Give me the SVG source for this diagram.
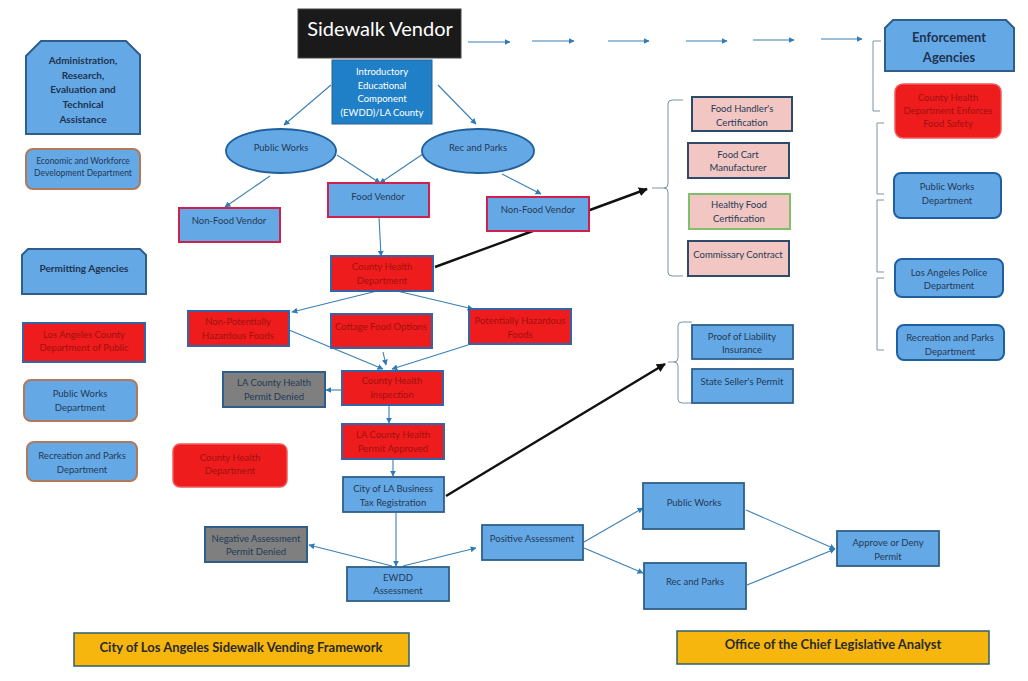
<svg xmlns="http://www.w3.org/2000/svg" width="1028" height="681" viewBox="0 0 1028 681">
<defs>
<style>
.t{font-family:Lato,"Liberation Sans",sans-serif;font-size:9.5px;fill:#243a55;text-anchor:middle}
.tr{font-family:Lato,"Liberation Sans",sans-serif;font-size:9.5px;fill:#a31010;text-anchor:middle}
.tw{font-family:Lato,"Liberation Sans",sans-serif;font-size:9.5px;fill:#ffffff;text-anchor:middle}
.tb{font-family:Lato,"Liberation Sans",sans-serif;font-size:10px;font-weight:bold;fill:#1f3350;text-anchor:middle}
.ty{font-family:Lato,"Liberation Sans",sans-serif;font-size:13px;font-weight:bold;fill:#2a2a2a;text-anchor:middle}
.blue{fill:#64a8e6;stroke:#2e5f8a;stroke-width:1.8}
.bluev{fill:#64a8e6;stroke:#d2204c;stroke-width:2}
.red{fill:#ee1c1c;stroke:#3565a8;stroke-width:2}
.redr{fill:#ee1c1c;stroke:#f25a5a;stroke-width:1.5}
.gray{fill:#7f7f7f;stroke:#2e5f8a;stroke-width:2}
.pink{fill:#f2c6c2;stroke:#2e4a6a;stroke-width:2}
.brown{fill:#64a8e6;stroke:#b07a5a;stroke-width:2}
.rblue{fill:#64a8e6;stroke:#1f5fa0;stroke-width:2}
.yel{fill:#f6b60e;stroke:#2d6070;stroke-width:1.5}
.c{fill:none;stroke:#3a7fb5;stroke-width:1.1}
.k{fill:none;stroke:#111111;stroke-width:2.4}
.br{fill:none;stroke:#7a93a8;stroke-width:1}
</style>
<marker id="a" viewBox="0 0 10 10" refX="9" refY="5" markerWidth="6" markerHeight="6" orient="auto-start-reverse" markerUnits="userSpaceOnUse"><path d="M0,0 L10,5 L0,10 z" fill="#2e7bb5"/></marker>
<marker id="ak" viewBox="0 0 10 10" refX="9" refY="5" markerWidth="9" markerHeight="9" orient="auto" markerUnits="userSpaceOnUse"><path d="M0,0 L10,5 L0,10 z" fill="#111111"/></marker>
</defs>
<rect width="1028" height="681" fill="#ffffff"/>

<g id="connectors">
<line class="c" x1="468" y1="42" x2="510" y2="42" marker-end="url(#a)"/>
<line class="c" x1="532" y1="41" x2="574" y2="41" marker-end="url(#a)"/>
<line class="c" x1="608" y1="41" x2="649" y2="41" marker-end="url(#a)"/>
<line class="c" x1="686" y1="41" x2="727" y2="41" marker-end="url(#a)"/>
<line class="c" x1="753" y1="40" x2="794" y2="40" marker-end="url(#a)"/>
<line class="c" x1="821" y1="39" x2="862" y2="39" marker-end="url(#a)"/>
<line class="c" x1="331" y1="85" x2="284" y2="125" marker-end="url(#a)"/>
<line class="c" x1="438" y1="85" x2="476" y2="124" marker-end="url(#a)"/>
<line class="c" x1="337" y1="155" x2="380" y2="183" marker-end="url(#a)"/>
<line class="c" x1="423" y1="154" x2="380" y2="183" marker-end="url(#a)"/>
<line class="c" x1="270" y1="176" x2="225" y2="207" marker-end="url(#a)"/>
<line class="c" x1="502" y1="174" x2="541" y2="194" marker-end="url(#a)"/>
<line class="c" x1="379" y1="217" x2="381" y2="256" marker-end="url(#a)"/>
<line class="c" x1="377" y1="291" x2="292" y2="312" marker-end="url(#a)"/>
<line class="c" x1="397" y1="291" x2="473" y2="309" marker-end="url(#a)"/>
<line class="c" x1="289" y1="330" x2="383" y2="369" marker-end="url(#a)"/>
<line class="c" x1="383" y1="352" x2="386" y2="365" marker-end="url(#a)"/>
<line class="c" x1="468" y1="345" x2="392" y2="369" marker-end="url(#a)"/>
<line class="c" x1="342" y1="390" x2="326" y2="390" marker-end="url(#a)"/>
<line class="c" x1="389" y1="405" x2="389" y2="423" marker-end="url(#a)"/>
<line class="c" x1="393" y1="459" x2="393" y2="476" marker-end="url(#a)"/>
<line class="c" x1="396" y1="513" x2="396" y2="566" marker-end="url(#a)"/>
<line class="c" x1="392" y1="566" x2="309" y2="545" marker-end="url(#a)"/>
<line class="c" x1="403" y1="566" x2="476" y2="548" marker-end="url(#a)"/>
<line class="c" x1="584" y1="542" x2="643" y2="508" marker-end="url(#a)"/>
<line class="c" x1="584" y1="548" x2="643" y2="573" marker-end="url(#a)"/>
<line class="c" x1="746" y1="510" x2="835" y2="549" marker-end="url(#a)"/>
<line class="c" x1="747" y1="585" x2="835" y2="549" marker-end="url(#a)"/>
<line class="k" x1="435" y1="267" x2="647" y2="189" marker-end="url(#ak)"/>
<line class="k" x1="446" y1="496" x2="665" y2="364" marker-end="url(#ak)"/>
<path class="br" d="M683 100 H672 Q668 100 668 104 V184 Q668 188 664 188 H652 M664 188 Q668 188 668 192 V272 Q668 276 672 276 H683"/>
<path class="br" d="M692 322 H682 Q678 322 678 326 V358 Q678 362 674 362 H668 M674 362 Q678 362 678 366 V399 Q678 403 682 403 H692"/>
<path class="br" d="M881 41 H873 V111 H880"/>
<path class="br" d="M884 123 H877 V194 H884"/>
<path class="br" d="M884 200 H877 V272 H884"/>
<path class="br" d="M884 278 H877 V350 H884"/>
</g>

<g id="title"><rect x="298" y="9" width="163" height="49" fill="#1a1a1a" stroke="#444" stroke-width="1"/><text x="380" y="36" font-family="Lato,'Liberation Sans',sans-serif" font-size="20" fill="#ffffff" text-anchor="middle">Sidewalk Vendor</text></g>
<g id="intro"><rect x="332" y="60" width="100" height="64" fill="#1f80c8" stroke="#2a5f90" stroke-width="1"/><text class="tw" x="382" y="75">Introductory</text><text class="tw" x="382" y="88.5">Educational</text><text class="tw" x="382" y="102">Component</text><text class="tw" x="382" y="115.5">(EWDD)/LA County</text></g>

<g id="pw-ellipse"><ellipse cx="281" cy="151" rx="55" ry="22" fill="#64a8e6" stroke="#1f5f9a" stroke-width="1.8"/><text class="t" x="281" y="150.5">Public Works</text></g>
<g id="rp-ellipse"><ellipse cx="478" cy="151" rx="56" ry="22" fill="#64a8e6" stroke="#1f5f9a" stroke-width="1.8"/><text class="t" x="478" y="150.5">Rec and Parks</text></g>
<g id="food-vendor"><rect class="bluev" x="328" y="183" width="101" height="34"/><text class="t" x="378" y="199.5">Food Vendor</text></g>
<g id="nonfood-left"><rect class="bluev" x="179" y="208" width="101" height="34"/><text class="t" x="229" y="223.5">Non-Food Vendor</text></g>
<g id="nonfood-right"><rect class="bluev" x="487" y="197" width="102" height="34"/><text class="t" x="538" y="212.5">Non-Food Vendor</text></g>
<g id="chd"><rect class="red" x="331" y="256" width="102" height="35"/><text class="tr" x="382" y="269.5">County Health</text><text class="tr" x="382" y="283.5">Department</text></g>
<g id="nphf"><rect class="red" x="188" y="311" width="101" height="35"/><text class="tr" x="238" y="324.5">Non-Potentially</text><text class="tr" x="238" y="338.5">Hazardous Foods</text></g>
<g id="cottage"><rect class="red" x="331" y="314" width="101" height="34"/><text class="tr" x="381" y="329.5">Cottage Food Options</text></g>
<g id="phf"><rect class="red" x="469" y="309" width="102" height="35"/><text class="tr" x="520" y="323.5">Potentially Hazardous</text><text class="tr" x="520" y="337.5">Foods</text></g>
<g id="inspection"><rect class="red" x="342" y="371" width="101" height="34"/><text class="tr" x="392" y="383.5">County Health</text><text class="tr" x="392" y="397.5">Inspection</text></g>
<g id="denied"><rect class="gray" x="223" y="372" width="102" height="35"/><text class="t" x="274" y="386" fill="#1a2a3a">LA County Health</text><text class="t" x="274" y="400">Permit Denied</text></g>
<g id="approved"><rect class="red" x="342" y="424" width="102" height="35"/><text class="tr" x="393" y="437.5">LA County Health</text><text class="tr" x="393" y="451.5">Permit Approved</text></g>
<g id="city-tax"><rect class="blue" x="343" y="477" width="101" height="35"/><text class="t" x="393" y="491.5">City of LA Business</text><text class="t" x="393" y="505.5">Tax Registration</text></g>
<g id="negative"><rect class="gray" x="205" y="527" width="102" height="35"/><text class="t" x="256" y="541.5">Negative Assessment</text><text class="t" x="256" y="554.5">Permit Denied</text></g>
<g id="ewdd"><rect class="blue" x="347" y="567" width="102" height="34"/><text class="t" x="398" y="580.5">EWDD</text><text class="t" x="398" y="593.5">Assessment</text></g>
<g id="positive"><rect class="blue" x="482" y="525" width="101" height="35"/><text class="t" x="532" y="541.5">Positive Assessment</text></g>
<g id="pw-bottom"><rect class="blue" x="643" y="483" width="101" height="46"/><text class="t" x="694" y="505.5">Public Works</text></g>
<g id="rp-bottom"><rect class="blue" x="644" y="563" width="102" height="46"/><text class="t" x="695" y="584.5">Rec and Parks</text></g>
<g id="approve"><rect class="blue" x="837" y="531" width="102" height="35"/><text class="t" x="888" y="545.5">Approve or Deny</text><text class="t" x="888" y="559.5">Permit</text></g>

<g id="food-handler"><rect class="pink" x="692" y="97" width="100" height="34"/><text class="t" x="742" y="111.5">Food Handler's</text><text class="t" x="742" y="125.5">Certification</text></g>
<g id="food-cart"><rect class="pink" x="688" y="143" width="101" height="35"/><text class="t" x="738" y="157.5">Food Cart</text><text class="t" x="738" y="170.5">Manufacturer</text></g>
<g id="healthy"><rect class="pink" x="689" y="194" width="101" height="35" style="stroke:#7fc06a"/><text class="t" x="739" y="207.5">Healthy Food</text><text class="t" x="739" y="221.5">Certification</text></g>
<g id="commissary"><rect class="pink" x="688" y="241" width="101" height="35"/><text class="t" x="738" y="257.5">Commissary Contract</text></g>
<g id="liability"><rect class="blue" x="692" y="325" width="101" height="34"/><text class="t" x="742" y="339.5">Proof of Liability</text><text class="t" x="742" y="352.5">Insurance</text></g>
<g id="seller"><rect class="blue" x="692" y="369" width="101" height="34"/><text class="t" x="742" y="384.5">State Seller's Permit</text></g>

<g id="enforcement"><path d="M885 71 V28 L893 20 H1006 L1014 28 V71 Z" fill="#64a8e6" stroke="#2e5f8a" stroke-width="2"/><text class="tb" x="949" y="42" style="font-size:13px">Enforcement</text><text class="tb" x="949" y="62" style="font-size:13px">Agencies</text></g>
<g id="enf-health"><rect class="redr" x="895" y="84" width="106" height="54" rx="8"/><text class="tr" x="948" y="100.5">County Health</text><text class="tr" x="948" y="113.5">Department Enforces</text><text class="tr" x="948" y="126.5">Food Safety</text></g>
<g id="enf-pw"><rect class="rblue" x="894" y="173" width="107" height="45" rx="7"/><text class="t" x="947" y="189.5">Public Works</text><text class="t" x="947" y="203.5">Department</text></g>
<g id="enf-lapd"><rect class="rblue" x="895" y="259" width="108" height="38" rx="7"/><text class="t" x="949" y="275.5">Los Angeles Police</text><text class="t" x="949" y="288.5">Department</text></g>
<g id="enf-rp"><rect class="rblue" x="897" y="325" width="107" height="35" rx="7"/><text class="t" x="950" y="340.5">Recreation and Parks</text><text class="t" x="950" y="354.5">Department</text></g>

<g id="admin"><path d="M26 134 V56 L41 41 H126 L140 55 V134 Z" fill="#64a8e6" stroke="#2e5f8a" stroke-width="2"/><text class="tb" x="83" y="63.5">Administration,</text><text class="tb" x="83" y="78.5">Research,</text><text class="tb" x="83" y="92.5">Evaluation and</text><text class="tb" x="83" y="107.5">Technical</text><text class="tb" x="83" y="122.5">Assistance</text></g>
<g id="ewdd-dept"><rect class="brown" x="26" y="149" width="114" height="40" rx="7"/><text class="t" x="83" y="164" style="font-size:8.5px">Economic and Workforce</text><text class="t" x="83" y="176" style="font-size:8.5px">Development Department</text></g>
<g id="permitting"><path d="M22 294 V255 L28 249 H140 L146 255 V294 Z" fill="#64a8e6" stroke="#2e5f8a" stroke-width="2"/><text class="tb" x="84" y="271.5">Permitting Agencies</text></g>
<g id="la-county-public"><rect class="red" x="23" y="323" width="122" height="39"/><text class="tr" x="84" y="337.5">Los Angeles County</text><text class="tr" x="84" y="350.5">Department of Public</text></g>
<g id="perm-pw"><rect class="brown" x="24" y="380" width="113" height="41" rx="7"/><text class="t" x="80" y="396.5">Public Works</text><text class="t" x="80" y="410.5">Department</text></g>
<g id="perm-rp"><rect class="brown" x="27" y="442" width="110" height="39" rx="7"/><text class="t" x="82" y="458.5">Recreation and Parks</text><text class="t" x="82" y="472.5">Department</text></g>
<g id="perm-chd"><rect class="redr" x="173" y="444" width="114" height="43" rx="7"/><text class="tr" x="230" y="460.5">County Health</text><text class="tr" x="230" y="473.5">Department</text></g>

<g id="footer-left"><rect class="yel" x="74" y="633" width="335" height="33"/><text class="ty" x="241" y="651.5">City of Los Angeles Sidewalk Vending Framework</text></g>
<g id="footer-right"><rect class="yel" x="677" y="631" width="312" height="33"/><text class="ty" x="833" y="648.5">Office of the Chief Legislative Analyst</text></g>
</svg>
